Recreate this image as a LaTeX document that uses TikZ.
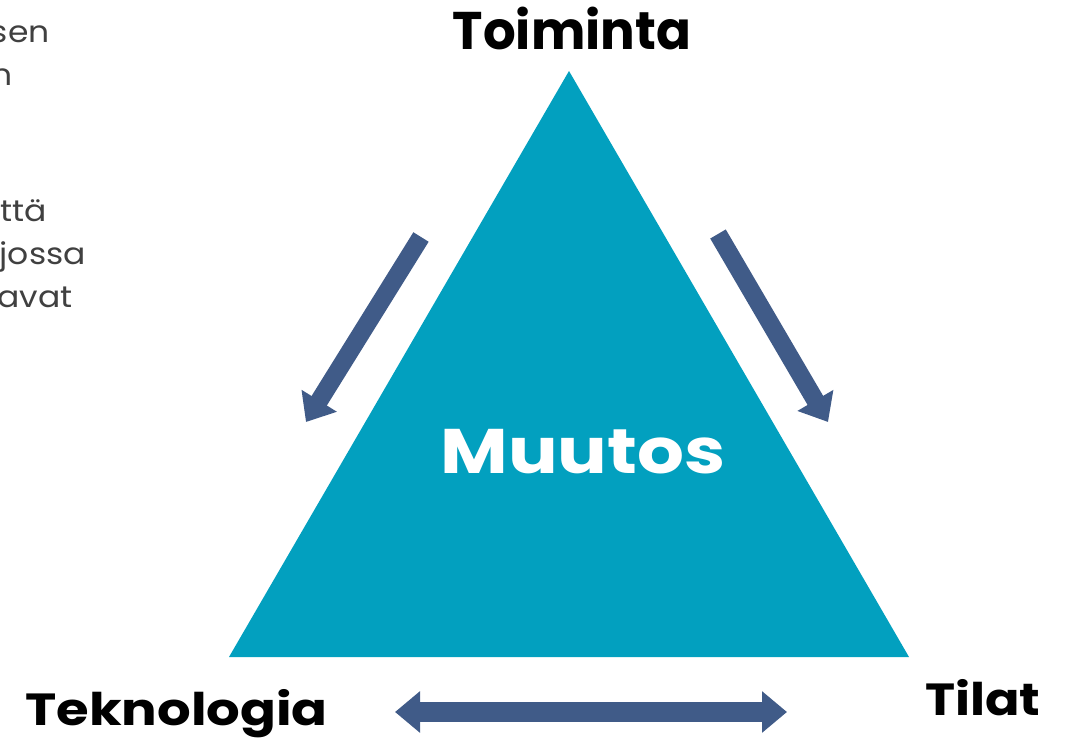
\documentclass[tikz,border=0pt]{standalone}
\usepackage{fontspec}
\setmainfont{Poppins}
\usetikzlibrary{arrows.meta}
\definecolor{teal}{HTML}{02A0BF}
\definecolor{arrowblue}{HTML}{405B88}
\definecolor{txtgray}{HTML}{404040}
\begin{document}
\begin{tikzpicture}[x=1pt,y=-1pt,
  bigarrow/.style={draw=arrowblue,line width=18pt,-{Triangle[length=25pt,width=40pt]}},
  dblarrow/.style={draw=arrowblue,line width=20pt,{Triangle[length=25pt,width=40pt]}-{Triangle[length=25pt,width=40pt]}},
  label/.style={inner sep=0pt,font=\fontsize{53}{53}\selectfont\bfseries},
  side/.style={inner sep=0pt,anchor=base east,text=txtgray,font=\fontsize{30}{30}\selectfont}]
\useasboundingbox (0,0) rectangle (1071,743);
\fill[white] (0,0) rectangle (1071,743);
% triangle
\coordinate (apex) at (569,71);
\coordinate (bl) at (229,657);
\coordinate (br) at (909,657);
\fill[teal] (apex) -- (bl) -- (br) -- cycle;
% arrows
\coordinate (la1) at (421,237);
\coordinate (la2) at (306,422);
\coordinate (ra1) at (718,234);
\coordinate (ra2) at (828,422);
\coordinate (ha1) at (395,712);
\coordinate (ha2) at (787,712);
\draw[bigarrow] (la1) -- (la2);
\draw[bigarrow] (ra1) -- (ra2);
\draw[dblarrow] (ha1) -- (ha2);
% labels
\node[label,anchor=base] (toim) at (572,50) {\scalebox{0.97}[1]{Toiminta}};
\node[label,anchor=base,text=white,font=\fontsize{63}{63}\selectfont\bfseries] (muutos) at (583,473) {\scalebox{1.17}[1]{Muutos}};
\node[label,anchor=base west,font=\fontsize{45}{45}\selectfont\bfseries] (tekno) at (25,725) {\scalebox{1.175}[1]{Teknologia}};
\node[label,anchor=base west,font=\fontsize{45}{45}\selectfont\bfseries] (tilat) at (925,715) {\scalebox{1.13}[1]{Tilat}};
% clipped side text
\node[side] (s1) at (50,43) {\scalebox{1.1}[1]{sen}};
\node[side] (s2) at (13,86) {\scalebox{1.1}[1]{n}};
\node[side] (s3) at (47,222) {\scalebox{1.1}[1]{ttä}};
\node[side] (s4) at (86,265) {\scalebox{1.1}[1]{jossa}};
\node[side] (s5) at (73,308) {\scalebox{1.1}[1]{avat}};
\end{tikzpicture}
\end{document}
